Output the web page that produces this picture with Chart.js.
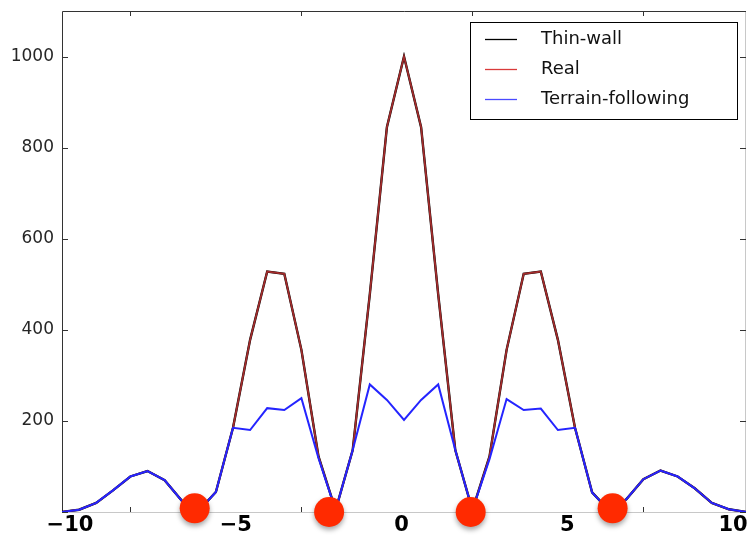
<!DOCTYPE html>
<html>
<head>
<meta charset="utf-8">
<script src="https://cdn.jsdelivr.net/npm/chart.js@4/dist/chart.umd.min.js"></script>
<style>
	html, body { margin: 0; padding: 0; background: #fff; }
	#wrap { width: 747px; height: 535px; }
</style>
</head>
<body>
<div id="wrap"><canvas id="fieldChart" width="747" height="535"></canvas></div>
<script>
var xValues = [-10, -9.5, -9, -8.5, -8, -7.5, -7, -6.5, -6, -5.5, -5, -4.5, -4, -3.5, -3, -2.5, -2, -1.5, -1, -0.5,
	0, 0.5, 1, 1.5, 2, 2.5, 3, 3.5, 4, 4.5, 5, 5.5, 6, 6.5, 7, 7.5, 8, 8.5, 9, 9.5, 10];

var thinWall = [0, 5, 20, 48, 78, 90, 70, 25, 3, 44, 185, 378, 528, 523, 356, 122, 4, 136, 478, 845,
	1000, 845, 478, 136, 4, 122, 356, 523, 528, 378, 185, 43, 3, 28, 72, 91, 78, 52, 20, 6, 0];

var real = [0, 5, 20, 48, 78, 90, 70, 25, 3, 44, 185, 378, 528, 523, 356, 122, 4, 136, 478, 845,
	1000, 845, 478, 136, 4, 122, 356, 523, 528, 378, 185, 43, 3, 28, 72, 91, 78, 52, 20, 6, 0];

var terrain = [0, 5, 20, 48, 78, 90, 70, 25, 3, 44, 185, 180, 228, 224, 250, 118, 4, 136, 280, 246,
	202, 246, 280, 136, 4, 116, 248, 224, 227, 180, 185, 43, 3, 28, 72, 91, 78, 52, 20, 6, 0];

// zero markers
var markerX = [-6.12, -2.19, 1.95, 6.1];
var markerY = [8, 0, 0, 8];

var yTicks = [0, 200, 400, 600, 800, 1000];
var xTickMarks = [-8, -3, 2, 7];
var xLabels = [-10, -5, 0, 5, 10];

var legendItems = [
	{ text: 'Thin-wall', color: '#000000' },
	{ text: 'Real', color: '#d93a3a' },
	{ text: 'Terrain-following', color: '#4a4aff' }
];

function toPoints(ys) {
	return ys.map(function(y, i) { return { x: xValues[i], y: y }; });
}

function minusLabel(v) {
	return v < 0 ? '\u2212' + Math.abs(v) : String(v);
}

function noPadding(scale) {
	scale.paddingLeft = 0;
	scale.paddingRight = 0;
	scale.paddingTop = 0;
	scale.paddingBottom = 0;
}

// frame + inward tick marks
var framePlugin = {
	id: 'frame',
	beforeDatasetsDraw: function(chart) {
		var ctx = chart.ctx, a = chart.chartArea;
		var xs = chart.scales.x, ys = chart.scales.y;
		ctx.save();
		ctx.lineWidth = 1;
		ctx.strokeStyle = '#c8c8c8';
		ctx.beginPath();
		ctx.moveTo(a.left, a.bottom + 0.5);
		ctx.lineTo(a.right - 0.5, a.bottom + 0.5);
		ctx.lineTo(a.right - 0.5, a.top);
		ctx.stroke();

		ctx.strokeStyle = '#333';
		ctx.beginPath();
		ctx.moveTo(a.left + 0.5, a.bottom);
		ctx.lineTo(a.left + 0.5, a.top + 0.5);
		ctx.lineTo(a.right, a.top + 0.5);
		ctx.stroke();

		ctx.beginPath();
		yTicks.forEach(function(v) {
			var py = Math.round(ys.getPixelForValue(v)) + 0.5;
			ctx.moveTo(a.left, py); ctx.lineTo(a.left + 6, py);
			ctx.moveTo(a.right, py); ctx.lineTo(a.right - 6, py);
		});
		xTickMarks.forEach(function(v) {
			var px = Math.round(xs.getPixelForValue(v)) + 0.5;
			ctx.moveTo(px, a.top); ctx.lineTo(px, a.top + 5);
			ctx.moveTo(px, a.bottom); ctx.lineTo(px, a.bottom - 5);
		});
		ctx.stroke();
		ctx.restore();
	}
};

// soft shadow under the marker dots
var shadowPlugin = {
	id: 'dotShadow',
	beforeDatasetDraw: function(chart, args) {
		if (args.index !== 3) return;
		var ctx = chart.ctx;
		ctx.save();
		ctx.shadowColor = 'rgba(0,0,0,0.35)';
		ctx.shadowBlur = 5;
		ctx.shadowOffsetY = 3;
	},
	afterDatasetDraw: function(chart, args) {
		if (args.index !== 3) return;
		chart.ctx.restore();
	}
};

var boxLegend = {
	id: 'boxLegend',
	afterDraw: function(chart) {
		var ctx = chart.ctx, a = chart.chartArea;
		var right = a.right - 9, top = a.top + 11;
		var left = right - 267, bottom = top + 97;
		ctx.save();
		ctx.fillStyle = '#fff';
		ctx.fillRect(left, top, right - left, bottom - top);
		ctx.strokeStyle = '#000';
		ctx.lineWidth = 1;
		ctx.strokeRect(left + 0.5, top + 0.5, right - left, bottom - top);
		ctx.font = '18px "DejaVu Sans"';
		ctx.textBaseline = 'middle';
		legendItems.forEach(function(item, i) {
			var cy = top + 17 + i * 30;
			ctx.strokeStyle = item.color;
			ctx.lineWidth = 1.3;
			ctx.beginPath();
			ctx.moveTo(left + 15, cy + 0.5);
			ctx.lineTo(left + 47, cy + 0.5);
			ctx.stroke();
			ctx.fillStyle = '#111';
			ctx.fillText(item.text, left + 71, cy);
		});
		ctx.restore();
	}
};

var ctx = document.getElementById('fieldChart');
var fieldChart = new Chart(ctx, {
	type: 'line',
	data: {
		datasets: [
			{ label: 'Thin-wall', data: toPoints(thinWall), borderColor: '#000', borderWidth: 2.4, pointRadius: 0, order: 4 },
			{ label: 'Real', data: toPoints(real), borderColor: '#a32c2c', borderWidth: 1.8, pointRadius: 0, order: 3 },
			{ label: 'Terrain-following', data: toPoints(terrain), borderColor: '#2424ff', borderWidth: 2, pointRadius: 0, order: 2 },
			{
				label: 'markers',
				data: markerX.map(function(x, i) { return { x: x, y: markerY[i] }; }),
				showLine: false,
				pointRadius: 15,
				pointHoverRadius: 15,
				backgroundColor: '#ff2a00',
				borderWidth: 0,
				clip: false,
				order: 1
			}
		]
	},
	options: {
		responsive: false,
		animation: false,
		layout: { autoPadding: false, padding: { top: 11, right: 1, left: 0, bottom: 0 } },
		plugins: {
			legend: { display: false },
			tooltip: { enabled: false }
		},
		scales: {
			x: {
				type: 'linear',
				display: false,
				min: -10,
				max: 10
			},
			xl: {
				type: 'linear',
				position: 'bottom',
				min: -10.24,
				max: 10.39,
				grid: { display: false, drawTicks: false },
				border: { display: false },
				afterBuildTicks: function(scale) {
					scale.ticks = xLabels.map(function(v) { return { value: v }; });
				},
				afterFit: function(scale) { scale.height = 23; noPadding(scale); },
				ticks: {
					padding: 1,
					maxRotation: 0,
					autoSkip: false,
					color: '#000',
					font: { family: 'DejaVu Sans', size: 21, weight: 'bold' },
					callback: function(v) { return minusLabel(v); }
				}
			},
			y: {
				min: 0,
				max: 1100,
				grid: { display: false, drawTicks: false },
				border: { display: false },
				afterBuildTicks: function(scale) {
					scale.ticks = yTicks.map(function(v) { return { value: v }; });
				},
				afterFit: function(scale) { scale.width = 62; noPadding(scale); },
				ticks: {
					padding: 8,
					color: '#262626',
					font: { family: 'DejaVu Sans', size: 17 },
					callback: function(v) { return v === 0 ? '' : String(v); }
				}
			}
		}
	},
	plugins: [framePlugin, shadowPlugin, boxLegend]
});
</script>
</body>
</html>
